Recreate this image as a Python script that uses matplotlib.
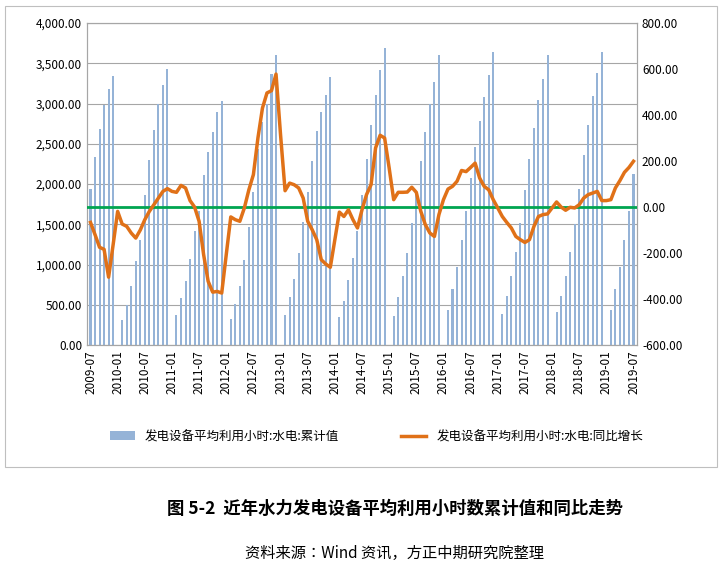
import numpy as np
import matplotlib.pyplot as plt
from matplotlib import font_manager
from matplotlib.patches import Rectangle

cjk = sorted(set(f.name for f in font_manager.fontManager.ttflist if "CJK" in f.name))
plt.rcParams["font.family"] = (cjk[:1] or ["DejaVu Sans"]) + ["DejaVu Sans"]

nan = np.nan
# 累计值（1月无数据）
cum_2009 = [1940, 2330, 2680, 2980, 3180, 3340]
cum_2010 = [nan, 310, 500, 730, 1040, 1310, 1860, 2300, 2675, 3000, 3230, 3425]
cum_2011 = [nan, 367, 580, 800, 1070, 1415, 1660, 2110, 2400, 2645, 2890, 3030]
cum_2012 = [nan, 320, 510, 730, 1060, 1460, 1900, 2440, 2770, 3000, 3370, 3600]
cum_2013 = [nan, 375, 595, 820, 1145, 1530, 1895, 2280, 2655, 2890, 3105, 3335]
cum_2014 = [nan, 345, 550, 805, 1085, 1415, 1860, 2310, 2730, 3110, 3420, 3690]
cum_2015 = [nan, 360, 600, 860, 1145, 1520, 1900, 2280, 2645, 3000, 3270, 3600]
cum_2016 = [nan, 440, 690, 965, 1300, 1660, 2080, 2460, 2780, 3080, 3350, 3645]
cum_2017 = [nan, 390, 610, 860, 1160, 1520, 1925, 2310, 2700, 3040, 3310, 3600]
cum_2018 = [nan, 410, 615, 855, 1155, 1500, 1940, 2355, 2730, 3095, 3375, 3640]
cum_2019 = [nan, 440, 690, 965, 1300, 1665, 2130]
cum_hours = (cum_2009 + cum_2010 + cum_2011 + cum_2012 + cum_2013 + cum_2014
             + cum_2015 + cum_2016 + cum_2017 + cum_2018 + cum_2019)

yoy = [-67, -120, -175, -184, -305, -164,
       -19, -74, -84, -113, -135, -100, -55, -19, 10, 39, 68, 80,
       68, 64, 94, 83, 28, 0, -62, -207, -323, -370, -367, -374,
       -207, -43, -55, -62, -4, 75, 141, 300, 430, 496, 506, 578,
       314, 71, 104, 97, 83, 39, -62, -99, -142, -229, -248, -262,
       -142, -22, -41, -12, -55, -91, -12, 54, 97, 257, 312, 300,
       170, 32, 64, 64, 65, 86, 64, -19, -77, -113, -128, -33,
       32, 78, 90, 112, 159, 154, 172, 191, 126, 90, 75, 32,
       -4, -41, -67, -91, -128, -142, -154, -142, -84, -41, -33, -30,
       -4, 22, 0, -14, -1, -4, 10, 39, 54, 61, 68, 28,
       28, 32, 83, 115, 151, 172, 199]

months = []
y, m = 2009, 7
for _ in range(len(yoy)):
    months.append(f"{y}-{m:02d}")
    m += 1
    if m > 12:
        y, m = y + 1, 1

x = np.arange(len(months))

fig = plt.figure(figsize=(7.24, 5.76), dpi=100)
fig.patches.append(Rectangle((0.007, 0.19), 0.984, 0.80, transform=fig.transFigure,
                             fill=False, edgecolor="#bfbfbf", lw=0.8))
ax = fig.add_axes([0.120, 0.401, 0.760, 0.559])
ax2 = ax.twinx()

ax.bar(x, cum_hours, width=0.45, color="#95b3d7", zorder=2,
       label="发电设备平均利用小时:水电:累计值")
ax.set_ylim(0, 4000)
ax.set_yticks(np.arange(0, 4001, 500))
ax.set_yticklabels([f"{v:,.2f}" for v in np.arange(0, 4001, 500)])
ax.grid(axis="y", color="#a6a6a6", lw=0.8, zorder=0)
ax.set_xlim(-0.8, len(x) - 0.2)
ax.set_xticks(x[::6])
ax.set_xticklabels(months[::6], rotation=90)

ax2.axhline(0, color="#00a550", lw=2, zorder=3)
ax2.plot(x, yoy, color="#e07118", lw=2.5, zorder=4,
         label="发电设备平均利用小时:水电:同比增长")
ax2.set_ylim(-600, 800)
ax2.set_yticks(np.arange(-600, 801, 200))
ax2.set_yticklabels([f"{v:.2f}" for v in np.arange(-600, 801, 200)])

for a in (ax, ax2):
    a.tick_params(labelsize=8.5, length=0)
    for s in a.spines.values():
        s.set_color("#a6a6a6")

h1, l1 = ax.get_legend_handles_labels()
h2, l2 = ax2.get_legend_handles_labels()
fig.legend(h1 + h2, l1 + l2, loc="center", bbox_to_anchor=(0.52, 0.242), ncol=2,
           frameon=False, fontsize=9, columnspacing=5)

fig.text(0.545, 0.117, "图 5-2  近年水力发电设备平均利用小时数累计值和同比走势",
         ha="center", va="center", fontsize=12.5, fontweight="bold")
fig.text(0.545, 0.040, "资料来源：Wind 资讯，方正中期研究院整理",
         ha="center", va="center", fontsize=11)

fig.savefig("out.png", dpi=100)
